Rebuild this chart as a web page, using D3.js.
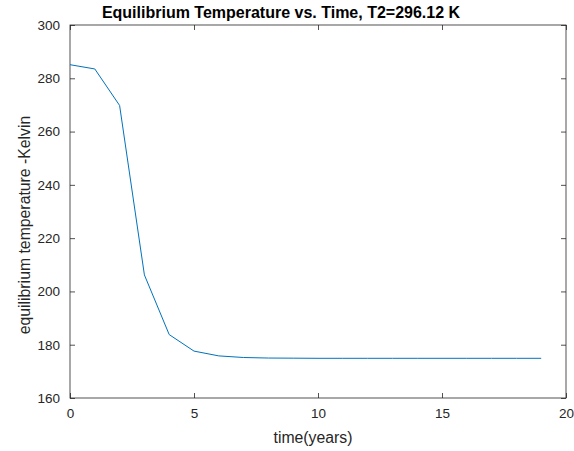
<!DOCTYPE html>
<html><head><meta charset="utf-8">
<script src="https://cdn.jsdelivr.net/npm/d3@7"></script>
<style>body{margin:0;background:#fff}svg{display:block}</style>
</head><body>
<svg id="c" width="574" height="451"></svg>
<script>
const years = [0,1,2,3,4,5,6,7,8,9,10,11,12,13,14,15,16,17,18,19];
const temps = [285.1,283.5,269.8,206.2,183.8,177.6,175.8,175.2,175.0,174.95,174.9,174.9,174.9,174.9,174.9,174.9,174.9,174.9,174.9,174.9];
const xTicks = [0,5,10,15,20];
const yTicks = [160,180,200,220,240,260,280,300];
const title = "Equilibrium Temperature vs. Time, T2=296.12 K";
const xLabel = "time(years)";
const yLabel = "equilibrium temperature -Kelvin";

const svg = d3.select("#c");
const L=70, R=566, T=25, B=398;
const x = d3.scaleLinear().domain([0,20]).range([L,R]);
const y = d3.scaleLinear().domain([160,300]).range([B,T]);
const font = "'Liberation Sans', Arial, Helvetica, sans-serif";
const axCol = "#262626";

// box
svg.append("rect").attr("x",L).attr("y",T).attr("width",R-L).attr("height",B-T)
  .attr("fill","none").attr("stroke","#262626").attr("stroke-width",0.8);

const tl = 5;
const gx = svg.append("g").attr("transform",`translate(0,${B})`)
  .call(d3.axisBottom(x).tickValues(xTicks).tickSizeInner(-tl).tickSizeOuter(0).tickPadding(10));
const gxt = svg.append("g").attr("transform",`translate(0,${T})`)
  .call(d3.axisTop(x).tickValues(xTicks).tickSizeInner(-tl).tickSizeOuter(0).tickFormat(""));
const gy = svg.append("g").attr("transform",`translate(${L},0)`)
  .call(d3.axisLeft(y).tickValues(yTicks).tickSizeInner(-tl).tickSizeOuter(0).tickPadding(10));
const gyr = svg.append("g").attr("transform",`translate(${R},0)`)
  .call(d3.axisRight(y).tickValues(yTicks).tickSizeInner(-tl).tickSizeOuter(0).tickFormat(""));
[gx,gxt,gy,gyr].forEach(g=>{
  g.select(".domain").remove();
  g.selectAll("line").attr("stroke","#262626").attr("stroke-width",0.8);
  g.selectAll("text").attr("fill",axCol).style("font-family",font).style("font-size","13.5px");
});

// line
svg.append("path").datum(years.map((d,i)=>[d,temps[i]]))
  .attr("fill","none").attr("stroke","#0072BD").attr("stroke-width",1)
  .attr("d", d3.line().x(d=>x(d[0])).y(d=>y(d[1])));

svg.append("text").attr("x",281).attr("y",18).attr("text-anchor","middle")
  .style("font-family",font).style("font-size","16px").style("font-weight","bold")
  .attr("fill","#000").text(title);
svg.append("text").attr("x",313).attr("y",443).attr("text-anchor","middle")
  .style("font-family",font).style("font-size","15.8px").attr("fill",axCol).text(xLabel);
svg.append("text").attr("transform",`translate(30,225) rotate(-90)`).attr("text-anchor","middle")
  .style("font-family",font).style("font-size","15.8px").attr("fill",axCol).text(yLabel);
</script>
</body></html>
